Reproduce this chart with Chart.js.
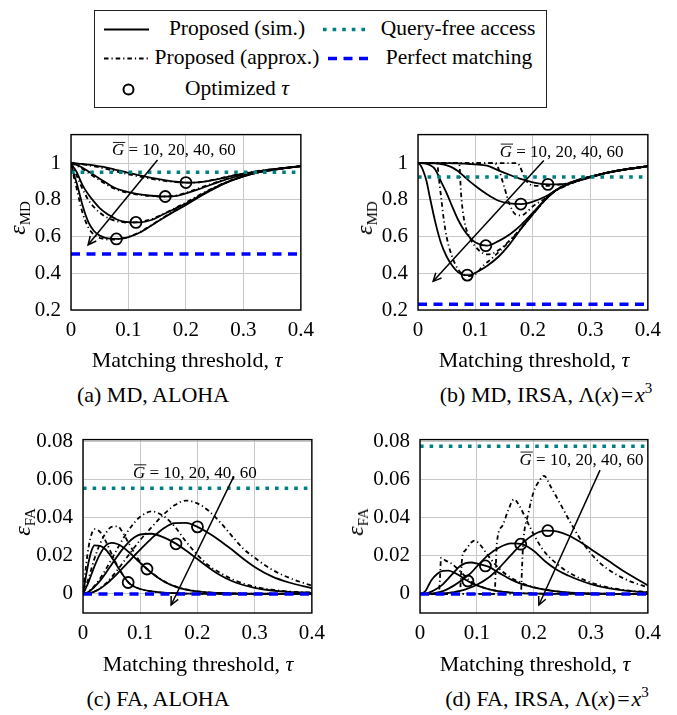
<!DOCTYPE html>
<html lang="en">
<head>
<meta charset="UTF-8">
<title>MD / FA vs. matching threshold</title>
<script src="https://cdn.jsdelivr.net/npm/chart.js"></script>
<style>
  body { margin: 0; background: #fff; }
  #fig { position: relative; width: 677px; height: 715px; font-family: "Liberation Serif", "Times New Roman", serif; color: #000; }
  #fig canvas { position: absolute; }
  .txt { position: absolute; transform: translate(-50%, -50%); white-space: nowrap; font-size: 22px; line-height: 1; }
  .lg { position: absolute; transform: translate(-50%, -50%); white-space: nowrap; font-size: 21.5px; line-height: 1; }
  .ylab { position: absolute; transform: translate(-50%, -50%) rotate(-90deg); white-space: nowrap; font-size: 24px; line-height: 1; }
  .ylab sub { font-size: 15px; font-style: normal; vertical-align: -5px; }
  sup { font-size: 15px; vertical-align: 9px; line-height: 0; }
  .box { position: absolute; left: 94px; top: 10px; width: 451px; height: 96px; border: 1.3px solid #222; }
  #legendMarks { position: absolute; left: 0; top: 0; }
</style>
</head>
<body>
<div id="fig">
  <div class="box"></div>
  <svg id="legendMarks" width="677" height="120">
    <line x1="104" y1="29.5" x2="149" y2="29.5" stroke="#000" stroke-width="1.8"/>
    <line x1="104" y1="58.5" x2="149" y2="58.5" stroke="#000" stroke-width="1.8" stroke-dasharray="4.5 3 1.2 3"/>
    <circle cx="128.5" cy="89.5" r="5" fill="none" stroke="#000" stroke-width="2"/>
    <line x1="323" y1="29.5" x2="370" y2="29.5" stroke="#008080" stroke-width="3.6" stroke-dasharray="3.6 6"/>
    <line x1="328" y1="58.5" x2="368" y2="58.5" stroke="#0000ff" stroke-width="3.6" stroke-dasharray="9 6.5"/>
  </svg>
  <div class="lg" style="left:237px; top:29px">Proposed (sim.)</div>
  <div class="lg" style="left:237px; top:58px">Proposed (approx.)</div>
  <div class="lg" style="left:237px; top:89px">Optimized <i>τ</i></div>
  <div class="lg" style="left:458px; top:29px">Query-free access</div>
  <div class="lg" style="left:459px; top:58px">Perfect matching</div>

  <canvas id="mdAloha"></canvas>
  <canvas id="mdIrsa"></canvas>
  <canvas id="faAloha"></canvas>
  <canvas id="faIrsa"></canvas>

  <div class="ylab" style="left:19px; top:218px"><i>ε</i><sub>MD</sub></div>
  <div class="ylab" style="left:366px; top:218px"><i>ε</i><sub>MD</sub></div>
  <div class="ylab" style="left:24px; top:522px"><i>ε</i><sub>FA</sub></div>
  <div class="ylab" style="left:357px; top:522px"><i>ε</i><sub>FA</sub></div>

  <div class="txt" style="left:187px; top:360px">Matching threshold, <i>τ</i></div>
  <div class="txt" style="left:534px; top:360px">Matching threshold, <i>τ</i></div>
  <div class="txt" style="left:198px; top:664px">Matching threshold, <i>τ</i></div>
  <div class="txt" style="left:535px; top:664px">Matching threshold, <i>τ</i></div>

  <div class="txt" style="left:153px; top:395px">(a) MD, ALOHA</div>
  <div class="txt" style="left:546px; top:395px">(b) MD, IRSA, Λ(<i>x</i>)&#8202;=&#8202;<i>x</i><sup>3</sup></div>
  <div class="txt" style="left:158px; top:699px">(c) FA, ALOHA</div>
  <div class="txt" style="left:547px; top:699px">(d) FA, IRSA, Λ(<i>x</i>)&#8202;=&#8202;<i>x</i><sup>3</sup></div>
</div>

<script>
  // shared axes
  const xTicks = [0, 0.1, 0.2, 0.3, 0.4];
  const mdTicks = [0.2, 0.4, 0.6, 0.8, 1];
  const faTicks = [0, 0.02, 0.04, 0.06, 0.08];
  // curves listed in the order G = 10, 20, 40, 60
  const loads = [10, 20, 40, 60];

  // τ grid of the smooth curves
  const tauGrid = [0, 0.005, 0.01, 0.015, 0.02, 0.03, 0.04, 0.05, 0.06, 0.07, 0.08, 0.09, 0.1,
                   0.12, 0.14, 0.16, 0.18, 0.2, 0.22, 0.24, 0.26, 0.28, 0.3, 0.33, 0.36, 0.4];

  // baselines per panel: a, b, c, d
  const queryFree = [0.95, 0.924, 0.0555, 0.0775];
  const perfectMatch = [0.505, 0.231, 0, 0];

  // (a) MD, ALOHA
  const mdAlohaSim = [
    [1, .999, .998, .996, .995, .991, .987, .982, .977, .970, .962, .955, .947, .933, .92, .908, .899, .894, .895, .903, .915, .93, .943, .958, .97, .983],
    [1, .996, .99, .983, .975, .955, .935, .915, .895, .875, .86, .85, .842, .83, .822, .818, .82, .835, .855, .878, .9, .92, .937, .955, .968, .983],
    [1, .975, .95, .915, .88, .83, .79, .755, .73, .71, .693, .683, .678, .677, .69, .72, .75, .78, .815, .85, .88, .907, .928, .952, .967, .983],
    [1, .94, .89, .83, .77, .68, .63, .605, .593, .588, .587, .59, .597, .622, .66, .7, .737, .772, .81, .845, .878, .905, .928, .952, .967, .983]
  ];
  const mdAlohaApprox = [
    [1, .999, .997, .995, .993, .988, .982, .976, .969, .962, .954, .946, .939, .926, .914, .904, .897, .893, .895, .904, .917, .931, .944, .959, .97, .983],
    [1, .994, .986, .977, .968, .947, .926, .906, .887, .869, .855, .845, .838, .827, .82, .818, .822, .838, .86, .882, .903, .922, .938, .956, .968, .983],
    [1, .965, .93, .895, .86, .8, .76, .73, .708, .693, .683, .678, .676, .68, .695, .722, .753, .785, .82, .853, .883, .908, .93, .953, .967, .983],
    [1, .925, .86, .79, .73, .65, .61, .592, .585, .583, .585, .59, .598, .625, .662, .702, .74, .775, .812, .848, .88, .906, .929, .952, .967, .983]
  ];
  const mdAlohaOptTau = [0.2, 0.164, 0.113, 0.079];
  const mdAlohaOptVal = [0.894, 0.818, 0.677, 0.587];

  // (b) MD, IRSA
  const mdIrsaSim = [
    [1, 1, 1, 1, 1, 1, 1, 1, .999, .998, .997, .995, .993, .986, .96, .935, .912, .895, .885, .884, .888, .905, .925, .948, .965, .983],
    [1, 1, 1, 1, .999, .998, .995, .988, .975, .955, .928, .9, .875, .83, .795, .78, .777, .79, .815, .852, .882, .905, .922, .948, .965, .983],
    [1, 1, .998, .995, .99, .965, .9, .835, .76, .69, .635, .595, .567, .55, .575, .612, .665, .73, .797, .852, .885, .91, .926, .948, .965, .983],
    [1, .985, .95, .9, .823, .68, .565, .49, .44, .405, .39, .39, .403, .44, .49, .56, .645, .722, .795, .852, .885, .91, .926, .948, .965, .983]
  ];
  const mdIrsaApproxTau = [
    [0, 0.1, 0.172, 0.177, 0.182, 0.187, 0.192, 0.2, 0.22, 0.24, 0.26, 0.28, 0.3, 0.33, 0.36, 0.4],
    [0, 0.1, 0.133, 0.14, 0.15, 0.16, 0.17, 0.18, 0.19, 0.2, 0.22, 0.24, 0.26, 0.28, 0.3, 0.33, 0.36, 0.4],
    [0, 0.07, 0.072, 0.075, 0.08, 0.09, 0.1, 0.11, 0.12, 0.13, 0.14, 0.16, 0.18, 0.2, 0.22, 0.24, 0.26, 0.28, 0.3, 0.33, 0.36, 0.4],
    [0, 0.033, 0.035, 0.037, 0.04, 0.045, 0.05, 0.06, 0.07, 0.08, 0.09, 0.1, 0.113, 0.13, 0.15, 0.17, 0.2, 0.22, 0.24, 0.26, 0.28, 0.3, 0.33, 0.36, 0.4]
  ];
  const mdIrsaApprox = [
    [1, 1, 1, .985, .945, .91, .89, .878, .876, .88, .89, .906, .925, .948, .965, .983],
    [1, 1, 1, .97, .87, .77, .72, .715, .735, .765, .805, .85, .88, .904, .922, .948, .965, .983],
    [1, 1, .99, .83, .695, .595, .545, .515, .503, .508, .525, .58, .648, .722, .795, .852, .885, .91, .926, .948, .965, .983],
    [1, 1, .96, .9, .82, .69, .595, .485, .42, .392, .385, .395, .44, .485, .545, .61, .722, .795, .852, .885, .91, .926, .948, .965, .983]
  ];
  const mdIrsaOptTau = [0.226, 0.179, 0.118, 0.0857];
  const mdIrsaOptVal = [0.884, 0.777, 0.55, 0.39];

  // (c) FA, ALOHA
  const faAlohaSim = [
    [0, .0001, .0003, .0007, .0012, .0028, .005, .0077, .0107, .0138, .017, .0202, .0233, .0292, .0342, .0372, .0373, .0352, .0318, .0278, .0233, .0185, .0142, .0092, .006, .003],
    [0, .0004, .0012, .0023, .0037, .007, .011, .0155, .0198, .0238, .0272, .0297, .0312, .0316, .0298, .0268, .0228, .0183, .0138, .0098, .0068, .0047, .0032, .0018, .0011, .0006],
    [0, .003, .0065, .0105, .0145, .021, .0255, .0268, .0262, .0245, .022, .0192, .0163, .011, .0068, .004, .0023, .0013, .0008, .0005, .0003, .0002, .0001, .0001, 0, 0],
    [0, .009, .017, .0228, .0255, .0252, .0232, .0193, .0145, .0098, .0058, .0038, .0026, .0013, .0007, .0004, .0002, .0001, 0, 0, 0, 0, 0, 0, 0, 0]
  ];
  const faAlohaApprox = [
    [0, .0001, .0003, .0007, .0013, .003, .0055, .0088, .0125, .0165, .0205, .0245, .0283, .035, .0415, .0465, .049, .0475, .0435, .0375, .0305, .0238, .019, .0128, .0085, .0043],
    [0, .0004, .0013, .0026, .0042, .0082, .013, .0183, .0237, .029, .0336, .0375, .0405, .0433, .041, .0355, .0275, .0205, .0148, .011, .0078, .0055, .0038, .0022, .0013, .0007],
    [0, .004, .0085, .0135, .0185, .0265, .032, .0352, .0355, .032, .0265, .0215, .0168, .0112, .0069, .0041, .0024, .0014, .0008, .0005, .0003, .0002, .0001, .0001, 0, 0],
    [0, .014, .025, .0315, .034, .0325, .0275, .021, .0148, .0099, .0059, .0039, .0026, .0013, .0007, .0004, .0002, .0001, 0, 0, 0, 0, 0, 0, 0, 0]
  ];
  const faAlohaOptTau = [0.2, 0.1625, 0.1118, 0.0789];
  const faAlohaOptVal = [0.0352, 0.0263, 0.0131, 0.006];

  // (d) FA, IRSA
  const faIrsaSim = [
    [0, 0, 0, 0, 0, .0001, .0003, .0006, .001, .0016, .0024, .0035, .0048, .0085, .014, .0205, .0267, .0312, .0332, .0328, .0308, .0275, .0235, .0175, .0115, .0045],
    [0, 0, 0, .0001, .0002, .0007, .0015, .0028, .0045, .0065, .0088, .0112, .0145, .0205, .0245, .0265, .026, .0225, .017, .0127, .0097, .0072, .0052, .003, .0017, .0008],
    [0, 0, .0002, .0006, .0012, .0028, .005, .0082, .0115, .0145, .0162, .0165, .016, .0143, .0108, .0075, .005, .0034, .0022, .0013, .0008, .0005, .0003, .0001, 0, 0],
    [0, .0005, .0017, .0045, .0072, .0105, .0121, .0122, .0112, .0095, .0075, .0058, .0045, .0025, .0013, .0007, .0003, .0002, .0001, 0, 0, 0, 0, 0, 0, 0]
  ];
  const faIrsaApproxTau = [
    [0, 0.177, 0.179, 0.181, 0.19, 0.2, 0.21, 0.2175, 0.23, 0.245, 0.265, 0.29, 0.315, 0.34, 0.37, 0.4],
    [0, 0.131, 0.133, 0.135, 0.145, 0.155, 0.165, 0.175, 0.185, 0.2, 0.215, 0.23, 0.25, 0.27, 0.3, 0.33, 0.36, 0.4],
    [0, 0.07, 0.072, 0.074, 0.08, 0.09, 0.096, 0.105, 0.115, 0.125, 0.14, 0.16, 0.18, 0.2, 0.25, 0.3, 0.4],
    [0, 0.033, 0.035, 0.037, 0.045, 0.055, 0.065, 0.075, 0.085, 0.1, 0.12, 0.15, 0.2, 0.25, 0.4]
  ];
  const faIrsaApprox = [
    [0, 0, .013, .026, .042, .054, .0595, .062, .056, .048, .037, .025, .0165, .011, .0065, .0035],
    [0, 0, .014, .027, .036, .044, .0497, .046, .04, .031, .0235, .0185, .0135, .0098, .006, .0035, .002, .001],
    [0, 0, .01, .019, .023, .027, .028, .026, .022, .018, .013, .0085, .0055, .0035, .001, .0002, 0],
    [0, 0, .008, .019, .0175, .016, .0135, .0105, .0075, .0048, .0025, .001, .0002, 0, 0]
  ];
  const faIrsaOptTau = [0.2243, 0.1768, 0.1148, 0.084];
  const faIrsaOptVal = [0.0332, 0.0261, 0.0147, 0.0068];

  // arrow [x0, y0, x1, y1] and label centre [x, y] for the load annotation
  const mdAlohaArrow = [0.1505, 1.017, 0.0298, 0.555], mdAlohaLabel = [0.179, 1.066];
  const mdIrsaArrow = [0.219, 1.014, 0.0264, 0.356], mdIrsaLabel = [0.25, 1.057];
  const faAlohaArrow = [0.2635, 0.0617, 0.154, -0.0058], faAlohaLabel = [0.1956, 0.0633];
  const faIrsaArrow = [0.316, 0.065, 0.2087, -0.0058], faIrsaLabel = [0.2835, 0.07];

  Chart.defaults.font.family = '"Liberation Serif", "Times New Roman", serif';
  Chart.defaults.font.size = 21;
  Chart.defaults.color = '#000';

  const pts = (tau, vals) => tau.map((t, i) => ({ x: t, y: vals[i] }));

  function curve(tau, vals, dashed) {
    return {
      data: pts(tau, vals),
      borderColor: '#000', borderWidth: 1.8,
      borderDash: dashed ? [4.5, 3, 1.2, 3] : [],
      pointRadius: 0, cubicInterpolationMode: 'monotone', fill: false
    };
  }

  function hline(v, color, width, dash) {
    return {
      data: [{ x: 0, y: v }, { x: 0.4, y: v }],
      borderColor: color, borderWidth: width, borderDash: dash, borderCapStyle: 'butt',
      pointRadius: 0, fill: false
    };
  }

  function panelSets(k, sim, simTau, approx, approxTau, optTau, optVal) {
    const sets = [
      hline(perfectMatch[k], '#0000ff', 3.6, [9, 6.5]),
      hline(queryFree[k], '#008080', 3.6, [3.6, 6]),
      {
        data: pts(optTau, optVal), showLine: false,
        pointStyle: 'circle', pointRadius: 5.5, pointBorderWidth: 1.8,
        pointBorderColor: '#000', pointBackgroundColor: 'rgba(0,0,0,0)'
      }
    ];
    loads.forEach((g, i) => {
      sets.push(curve(approxTau ? approxTau[i] : simTau, approx[i], true));
      sets.push(curve(simTau, sim[i], false));
    });
    return sets;
  }

  // frame, arrow and the load label
  const plotNote = {
    id: 'plotNote',
    afterDatasetsDraw(chart, args, opts) {
      const { ctx, chartArea: a, scales: { x, y } } = chart;
      ctx.save();
      ctx.beginPath();
      ctx.rect(a.left, a.top, a.right - a.left, a.bottom - a.top);
      ctx.clip();

      const x0 = x.getPixelForValue(opts.arrow[0]), y0 = y.getPixelForValue(opts.arrow[1]);
      const x1 = x.getPixelForValue(opts.arrow[2]), y1 = y.getPixelForValue(opts.arrow[3]);
      const ang = Math.atan2(y1 - y0, x1 - x0);
      ctx.strokeStyle = '#000';
      ctx.lineWidth = 1.5;
      ctx.beginPath();
      ctx.moveTo(x0, y0);
      ctx.lineTo(x1, y1);
      ctx.stroke();
      ctx.beginPath();
      ctx.moveTo(x1 - 9 * Math.cos(ang - 0.45), y1 - 9 * Math.sin(ang - 0.45));
      ctx.lineTo(x1, y1);
      ctx.lineTo(x1 - 9 * Math.cos(ang + 0.45), y1 - 9 * Math.sin(ang + 0.45));
      ctx.stroke();

      // G with overbar, then the load values
      const gFont = 'italic 17px "Liberation Serif"';
      const rFont = '17px "Liberation Serif"';
      const rest = ' = 10, 20, 40, 60';
      ctx.font = gFont;
      const gw = ctx.measureText('G').width;
      ctx.font = rFont;
      const rw = ctx.measureText(rest).width;
      const cx = x.getPixelForValue(opts.label[0]), cy = y.getPixelForValue(opts.label[1]);
      let lx = cx - (gw + rw) / 2;
      ctx.fillStyle = '#000';
      ctx.textAlign = 'left';
      ctx.textBaseline = 'middle';
      ctx.font = gFont;
      ctx.fillText('G', lx, cy);
      ctx.lineWidth = 0.9;
      ctx.beginPath();
      ctx.moveTo(lx + 1, cy - 8.5);
      ctx.lineTo(lx + gw + 1, cy - 8.5);
      ctx.stroke();
      ctx.font = rFont;
      ctx.fillText(rest, lx + gw, cy);
      ctx.restore();

      ctx.save();
      ctx.strokeStyle = '#000';
      ctx.lineWidth = 1.4;
      ctx.strokeRect(a.left, a.top, a.right - a.left, a.bottom - a.top);
      ctx.restore();
    }
  };

  const fmt = v => String(Number(v.toFixed(3)));

  // g: canvas box (x, y, w, h) and plot area (left, top, right, bottom) in page pixels
  function buildPlot(id, g, yMin, yMax, yTicks, datasets, arrow, label) {
    const cv = document.getElementById(id);
    cv.width = g.w;
    cv.height = g.h;
    cv.style.left = g.x + 'px';
    cv.style.top = g.y + 'px';
    return new Chart(cv, {
      type: 'line',
      data: { datasets },
      options: {
        responsive: false,
        animation: false,
        events: [],
        layout: { padding: { top: g.top - g.y, right: g.x + g.w - g.right, left: 0, bottom: 0 } },
        plugins: { legend: { display: false }, tooltip: { enabled: false }, plotNote: { arrow, label } },
        scales: {
          x: {
            type: 'linear', min: 0, max: 0.4,
            afterBuildTicks: s => { s.ticks = xTicks.map(v => ({ value: v })); },
            afterFit: s => { s.height = g.y + g.h - g.bottom; },
            grid: { color: '#c8c8c8', drawTicks: false },
            border: { display: false },
            ticks: { padding: 8, maxRotation: 0, autoSkip: false, callback: v => fmt(v) }
          },
          y: {
            type: 'linear', min: yMin, max: yMax,
            afterBuildTicks: s => { s.ticks = yTicks.map(v => ({ value: v })); },
            afterFit: s => { s.width = g.left - g.x; },
            grid: { color: '#c8c8c8', drawTicks: false },
            border: { display: false },
            ticks: { padding: 10, autoSkip: false, callback: v => fmt(v) }
          }
        }
      },
      plugins: [plotNote]
    });
  }

  buildPlot('mdAloha', { x: 0, y: 112, w: 322, h: 240, left: 71, top: 126, right: 303, bottom: 310 },
    0.2, 1.155, mdTicks,
    panelSets(0, mdAlohaSim, tauGrid, mdAlohaApprox, null, mdAlohaOptTau, mdAlohaOptVal),
    mdAlohaArrow, mdAlohaLabel);

  buildPlot('mdIrsa', { x: 340, y: 112, w: 329, h: 240, left: 418, top: 126, right: 650, bottom: 310 },
    0.2, 1.155, mdTicks,
    panelSets(1, mdIrsaSim, tauGrid, mdIrsaApprox, mdIrsaApproxTau, mdIrsaOptTau, mdIrsaOptVal),
    mdIrsaArrow, mdIrsaLabel);

  buildPlot('faAloha', { x: 0, y: 417, w: 333, h: 240, left: 83, top: 431, right: 314, bottom: 613 },
    -0.01, 0.081, faTicks,
    panelSets(2, faAlohaSim, tauGrid, faAlohaApprox, null, faAlohaOptTau, faAlohaOptVal),
    faAlohaArrow, faAlohaLabel);

  buildPlot('faIrsa', { x: 340, y: 417, w: 329, h: 240, left: 420, top: 431, right: 650, bottom: 613 },
    -0.01, 0.081, faTicks,
    panelSets(3, faIrsaSim, tauGrid, faIrsaApprox, faIrsaApproxTau, faIrsaOptTau, faIrsaOptVal),
    faIrsaArrow, faIrsaLabel);
</script>
</body>
</html>
